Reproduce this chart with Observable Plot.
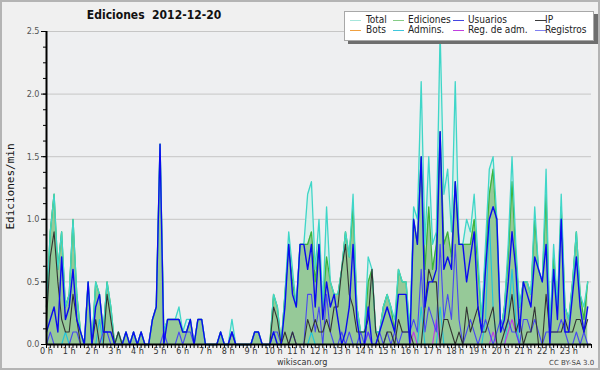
<!DOCTYPE html>
<html><head><meta charset="utf-8">
<script src="https://cdn.jsdelivr.net/npm/d3@7"></script>
<script src="https://cdn.jsdelivr.net/npm/@observablehq/plot@0.6"></script>
<style>
html,body{margin:0;padding:0;background:#f0f0f0;}
#wrap{position:relative;width:600px;height:370px;background:#f0f0f0;overflow:hidden;font-family:"DejaVu Sans",sans-serif;}
#wrap svg{position:absolute;left:0;top:0;}
#frame{position:absolute;left:0;top:0;width:600px;height:370px;box-sizing:border-box;border:2px solid #b4b4b4;pointer-events:none;}
#title{position:absolute;left:0;top:8px;width:308px;text-align:center;font:bold 12px "DejaVu Sans Condensed","DejaVu Sans",sans-serif;white-space:pre;color:#111;}
#ylab{position:absolute;left:-40px;top:180px;width:100px;text-align:center;font:11px "DejaVu Sans Mono",monospace;color:#111;transform:rotate(-90deg);}
#legend{position:absolute;left:344px;top:11px;width:248px;height:28px;background:#fff;border:1px solid #a8a8a8;box-shadow:4px 3px 0 #6e6e6e;font:10px "DejaVu Sans Condensed","DejaVu Sans",sans-serif;color:#222;}
.li{position:absolute;white-space:nowrap;line-height:10px;}
.sw{position:absolute;height:1px;width:11px;}
#foot1{position:absolute;left:277px;top:357px;line-height:9px;font:9px "DejaVu Sans Condensed","DejaVu Sans",sans-serif;color:#333;}
#foot2{position:absolute;left:549px;top:359px;line-height:7px;font:7px "DejaVu Sans",sans-serif;color:#444;}
</style></head>
<body>
<div id="wrap">
  <div id="title">Ediciones  2012-12-20</div>
  <div id="ylab">Ediciones/min</div>
  <div id="legend"></div>
  <div id="foot1">wikiscan.org</div>
  <div id="foot2">CC BY-SA 3.0</div>
  <div id="frame"></div>
</div>
<script>
// 10-minute buckets, edits per minute, 24 groups of 6 values (0 h ... 23 h)
const total = [
 0.3,0.9,1.2,0.6,0.9,0.3, 0.4,1.0,0.4,0.1,0.0,0.5, 0.0,0.5,0.4,0.1,0.5,0.3, 0.0,0.1,0.0,0.1,0.0,0.1,
 0.0,0.1,0.0,0.0,0.2,0.3, 1.6,0.1,0.2,0.2,0.2,0.3, 0.1,0.2,0.2,0.0,0.2,0.2, 0.0,0.0,0.0,0.0,0.1,0.0,
 0.0,0.2,0.0,0.0,0.0,0.0, 0.0,0.1,0.1,0.0,0.0,0.0, 0.4,0.3,0.0,0.4,0.9,0.6, 0.3,0.8,0.8,1.2,1.3,0.6,
 1.0,0.3,1.1,0.5,0.4,0.4, 0.6,0.9,0.7,1.2,0.3,0.1, 0.1,0.7,0.6,0.1,0.1,0.3, 0.4,0.3,0.2,0.6,0.5,0.5,
 0.1,1.1,1.0,2.1,0.8,1.5, 0.8,0.9,2.5,1.2,1.4,0.9, 2.1,0.8,0.8,1.0,0.9,1.2, 0.7,0.2,0.8,1.4,1.5,1.0,
 0.1,0.3,0.8,1.5,0.8,0.3, 0.5,0.5,0.4,1.1,0.6,0.5, 1.4,0.1,0.8,0.3,1.2,0.3, 0.2,0.5,0.9,0.4,0.3,0.5];
const ediciones = [
 0.3,0.9,1.2,0.6,0.9,0.3, 0.4,1.0,0.4,0.1,0.0,0.5, 0.0,0.5,0.4,0.1,0.5,0.3, 0.0,0.1,0.0,0.1,0.0,0.1,
 0.0,0.1,0.0,0.0,0.2,0.3, 1.6,0.1,0.2,0.2,0.2,0.2, 0.1,0.1,0.2,0.0,0.2,0.2, 0.0,0.0,0.0,0.0,0.1,0.0,
 0.0,0.1,0.0,0.0,0.0,0.0, 0.0,0.1,0.1,0.0,0.0,0.0, 0.4,0.3,0.0,0.4,0.8,0.5, 0.3,0.8,0.8,0.8,0.9,0.5,
 0.8,0.3,0.7,0.5,0.4,0.4, 0.6,0.9,0.7,1.1,0.3,0.1, 0.1,0.5,0.6,0.1,0.1,0.3, 0.4,0.3,0.1,0.6,0.5,0.5,
 0.1,1.0,0.8,1.5,0.6,1.1, 0.6,0.8,1.7,0.8,0.9,0.7, 1.3,0.8,0.8,0.8,0.8,1.0, 0.6,0.2,0.7,1.2,1.4,0.9,
 0.1,0.3,0.7,1.3,0.7,0.3, 0.5,0.5,0.4,1.0,0.6,0.5, 1.2,0.1,0.7,0.3,1.1,0.3, 0.2,0.5,0.9,0.4,0.2,0.5];
const usuarios = [
 0.1,0.2,0.3,0.1,0.7,0.2, 0.3,0.6,0.2,0.1,0.0,0.5, 0.0,0.3,0.4,0.1,0.1,0.1, 0.0,0.0,0.0,0.1,0.0,0.1,
 0.0,0.1,0.0,0.0,0.2,0.3, 1.6,0.0,0.2,0.2,0.2,0.2, 0.1,0.1,0.2,0.0,0.2,0.2, 0.0,0.0,0.0,0.0,0.1,0.0,
 0.0,0.1,0.0,0.0,0.0,0.0, 0.0,0.1,0.1,0.0,0.0,0.0, 0.1,0.0,0.0,0.3,0.8,0.4, 0.3,0.8,0.8,0.6,0.8,0.3,
 0.8,0.2,0.5,0.3,0.4,0.2, 0.0,0.1,0.3,0.8,0.2,0.0, 0.0,0.3,0.0,0.0,0.1,0.2, 0.3,0.2,0.1,0.4,0.4,0.4,
 0.0,1.0,0.8,1.5,0.3,0.5, 0.5,0.6,1.7,0.6,0.7,0.6, 1.3,0.8,0.8,0.5,0.7,0.9, 0.3,0.1,0.6,1.0,1.1,1.0,
 0.1,0.2,0.5,0.9,0.6,0.1, 0.5,0.4,0.3,0.7,0.6,0.5, 0.8,0.0,0.6,0.2,1.0,0.1, 0.1,0.4,0.7,0.3,0.1,0.3];
const ip = [
 0.2,0.7,0.9,0.5,0.2,0.1, 0.1,0.4,0.2,0.0,0.0,0.0, 0.0,0.2,0.0,0.0,0.4,0.2, 0.0,0.1,0.0,0.0,0.0,0.0,
 0.0,0.0,0.0,0.0,0.0,0.0, 0.0,0.0,0.0,0.0,0.0,0.0, 0.0,0.0,0.0,0.0,0.0,0.0, 0.0,0.0,0.0,0.0,0.0,0.0,
 0.0,0.0,0.0,0.0,0.0,0.0, 0.0,0.0,0.0,0.0,0.0,0.0, 0.3,0.2,0.0,0.1,0.0,0.1, 0.0,0.0,0.0,0.2,0.1,0.2,
 0.1,0.1,0.2,0.1,0.3,0.3, 0.6,0.8,0.4,0.3,0.1,0.1, 0.1,0.2,0.6,0.1,0.0,0.0, 0.1,0.1,0.0,0.2,0.1,0.1,
 0.1,0.0,0.0,0.0,0.3,0.6, 0.5,0.5,0.0,0.2,0.2,0.1, 0.0,0.1,0.0,0.3,0.1,0.2, 0.3,0.1,0.1,0.2,0.3,0.0,
 0.0,0.1,0.2,0.4,0.1,0.2, 0.0,0.1,0.1,0.3,0.0,0.0, 0.4,0.1,0.1,0.1,0.1,0.2, 0.1,0.1,0.2,0.2,0.1,0.2];
const registros = [
 0.0,0.1,0.0,0.0,0.0,0.0, 0.0,0.1,0.1,0.0,0.0,0.0, 0.0,0.0,0.0,0.1,0.1,0.0, 0.0,0.0,0.0,0.0,0.0,0.0,
 0.0,0.0,0.0,0.0,0.0,0.0, 0.0,0.1,0.0,0.0,0.0,0.1, 0.0,0.1,0.1,0.0,0.0,0.0, 0.0,0.0,0.0,0.0,0.0,0.0,
 0.0,0.1,0.0,0.0,0.0,0.0, 0.0,0.0,0.0,0.0,0.0,0.0, 0.1,0.1,0.0,0.0,0.0,0.1, 0.0,0.0,0.0,0.4,0.4,0.1,
 0.3,0.0,0.4,0.1,0.0,0.0, 0.1,0.0,0.1,0.0,0.0,0.1, 0.0,0.1,0.0,0.0,0.1,0.0, 0.1,0.0,0.1,0.0,0.1,0.1,
 0.1,0.2,0.1,0.6,0.1,0.3, 0.2,0.1,0.8,0.2,0.4,0.2, 0.8,0.2,0.0,0.1,0.2,0.1, 0.0,0.1,0.2,0.1,0.0,0.1,
 0.2,0.1,0.2,0.1,0.1,0.0, 0.2,0.2,0.1,0.2,0.1,0.0, 0.1,0.1,0.1,0.1,0.2,0.1, 0.0,0.0,0.1,0.0,0.1,0.0];
const admins = [
 0.0,0.0,0.0,0.0,0.0,0.1, 0.0,0.0,0.0,0.0,0.0,0.0, 0.0,0.0,0.2,0.0,0.0,0.0, 0.0,0.0,0.0,0.0,0.0,0.0,
 0.0,0.0,0.0,0.0,0.0,0.0, 0.0,0.0,0.0,0.0,0.0,0.0, 0.0,0.0,0.0,0.0,0.0,0.0, 0.0,0.0,0.0,0.0,0.0,0.0,
 0.0,0.0,0.0,0.0,0.0,0.0, 0.0,0.0,0.0,0.0,0.0,0.0, 0.0,0.0,0.0,0.0,0.0,0.0, 0.0,0.0,0.0,0.0,0.1,0.0,
 0.0,0.0,0.0,0.0,0.0,0.0, 0.0,0.0,0.0,0.0,0.0,0.0, 0.0,0.0,0.0,0.0,0.0,0.0, 0.0,0.0,0.0,0.0,0.0,0.0,
 0.0,0.0,0.0,0.3,0.0,0.0, 0.0,0.0,0.3,0.0,0.0,0.0, 0.0,0.0,0.0,0.0,0.0,0.0, 0.0,0.0,0.2,1.0,0.3,0.0,
 0.0,0.0,0.2,0.6,0.2,0.0, 0.0,0.0,0.0,0.0,0.0,0.0, 0.0,0.0,0.0,0.0,0.0,0.0, 0.0,0.0,0.0,0.0,0.0,0.0];
const regAdm = [
 0.0,0.0,0.0,0.0,0.0,0.0, 0.0,0.0,0.0,0.0,0.0,0.0, 0.0,0.0,0.0,0.0,0.0,0.0, 0.0,0.0,0.0,0.0,0.0,0.0,
 0.0,0.0,0.0,0.0,0.0,0.0, 0.0,0.0,0.0,0.0,0.0,0.0, 0.0,0.0,0.0,0.0,0.0,0.0, 0.0,0.0,0.0,0.0,0.0,0.0,
 0.0,0.0,0.0,0.0,0.0,0.0, 0.0,0.0,0.0,0.0,0.0,0.0, 0.0,0.0,0.0,0.0,0.0,0.0, 0.0,0.0,0.0,0.0,0.0,0.0,
 0.0,0.0,0.0,0.0,0.0,0.0, 0.0,0.0,0.0,0.0,0.0,0.0, 0.0,0.1,0.0,0.0,0.0,0.0, 0.0,0.0,0.0,0.0,0.0,0.0,
 0.0,0.1,0.0,0.0,0.0,0.0, 0.0,0.2,0.0,0.0,0.0,0.0, 0.0,0.0,0.0,0.0,0.0,0.0, 0.0,0.0,0.0,0.0,0.1,0.0,
 0.0,0.0,0.1,0.2,0.1,0.0, 0.0,0.0,0.0,0.0,0.0,0.0, 0.0,0.0,0.0,0.0,0.0,0.0, 0.0,0.0,0.0,0.0,0.0,0.0];

const hourLabels = ["0 h","1 h","2 h","3 h","4 h","5 h","6 h","7 h","8 h","9 h","10 h","11 h",
  "12 h","13 h","14 h","15 h","16 h","17 h","18 h","19 h","20 h","21 h","22 h","23 h"];
const yLabels = ["0.0","0.5","1.0","1.5","2.0","2.5"];

const legendItems = [
  {name:"Total", color:"#a6e6dc"}, {name:"Ediciones", color:"#86cc86"},
  {name:"Usuarios", color:"#4646e0"}, {name:"IP", color:"#3a3a3a"},
  {name:"Bots", color:"#f0a040"}, {name:"Admins.", color:"#40c6dc"},
  {name:"Reg. de adm.", color:"#c040e0"}, {name:"Registros", color:"#8080f0"}
];

const rows = total.map((v, i) => ({
  t: i / 6, total: v, ediciones: ediciones[i], usuarios: usuarios[i], ip: ip[i],
  registros: registros[i], admins: admins[i], regAdm: regAdm[i]
}));

const hourTicks = hourLabels.map((_, i) => i);
const minorX = d3.range(0, 145).map(i => i / 6);
const yMajor = yLabels.map(Number);
const minorY = d3.range(0, 21).map(i => i * 0.125);

const ln = (key, color, w) => Plot.lineY(rows, {x: "t", y: key, stroke: color, strokeWidth: w});

const chart = Plot.plot({
  width: 600, height: 370,
  marginLeft: 46, marginRight: 9, marginTop: 31, marginBottom: 26,
  x: {domain: [0, 24], label: null},
  y: {domain: [0, 2.5], label: null},
  style: {background: "transparent", fontFamily: "'DejaVu Sans Condensed','DejaVu Sans',sans-serif", fontSize: "9px", overflow: "visible"},
  marks: [
    Plot.frame({fill: "#eeeff1", stroke: null}),
    Plot.gridY(yMajor, {stroke: "#c6c6c6", strokeOpacity: 1}),
    Plot.areaY(rows, {x: "t", y: "total", fill: "#d8efea"}),
    Plot.areaY(rows, {x: "t", y: "ediciones", fill: "#96c998"}),
    ln("ediciones", "#3cb43c", 1.3),
    ln("total", "#3fd6c8", 1.3),
    ln("admins", "#20c4dc", 1.1),
    ln("regAdm", "#c03ce6", 1.1),
    ln("registros", "#4848f2", 1.1),
    ln("ip", "#333333", 1.1),
    ln("usuarios", "#0a0af0", 1.4),
    Plot.axisY(minorY, {tickSize: 3, tickFormat: () => "", label: null, stroke: "#000"}),
    Plot.axisY(yMajor, {tickSize: 5, tickPadding: 2, tickFormat: d => yLabels[yMajor.indexOf(d)], label: null, stroke: "#000", fill: "#555", fontSize: 9}),
    Plot.axisX(minorX, {tickSize: 4, tickFormat: () => "", label: null, stroke: "#000"}),
    Plot.axisX(hourTicks, {tickSize: 0, tickPadding: 3, tickFormat: d => hourLabels[d], label: null, fill: "#333", fontSize: 9}),
    Plot.ruleY([0], {stroke: "#000", strokeWidth: 2}),
    Plot.ruleX([0], {stroke: "#000", strokeWidth: 2})
  ]
});
document.getElementById("wrap").insertBefore(chart, document.getElementById("title"));

// legend: 4 columns x 2 rows
const leg = document.getElementById("legend");
const colSw = [5, 48, 108, 190];
const colTx = [21, 63, 123, 200];
const rowY = [3, 13];
legendItems.forEach((it, k) => {
  const c = k % 4, r = Math.floor(k / 4);
  const sw = document.createElement("div");
  sw.className = "sw";
  sw.style.left = colSw[c] + "px"; sw.style.top = (rowY[r] + 5) + "px";
  sw.style.background = it.color;
  leg.appendChild(sw);
  const tx = document.createElement("div");
  tx.className = "li";
  tx.style.left = colTx[c] + "px"; tx.style.top = rowY[r] + "px";
  tx.textContent = it.name;
  leg.appendChild(tx);
});
</script>
</body></html>
